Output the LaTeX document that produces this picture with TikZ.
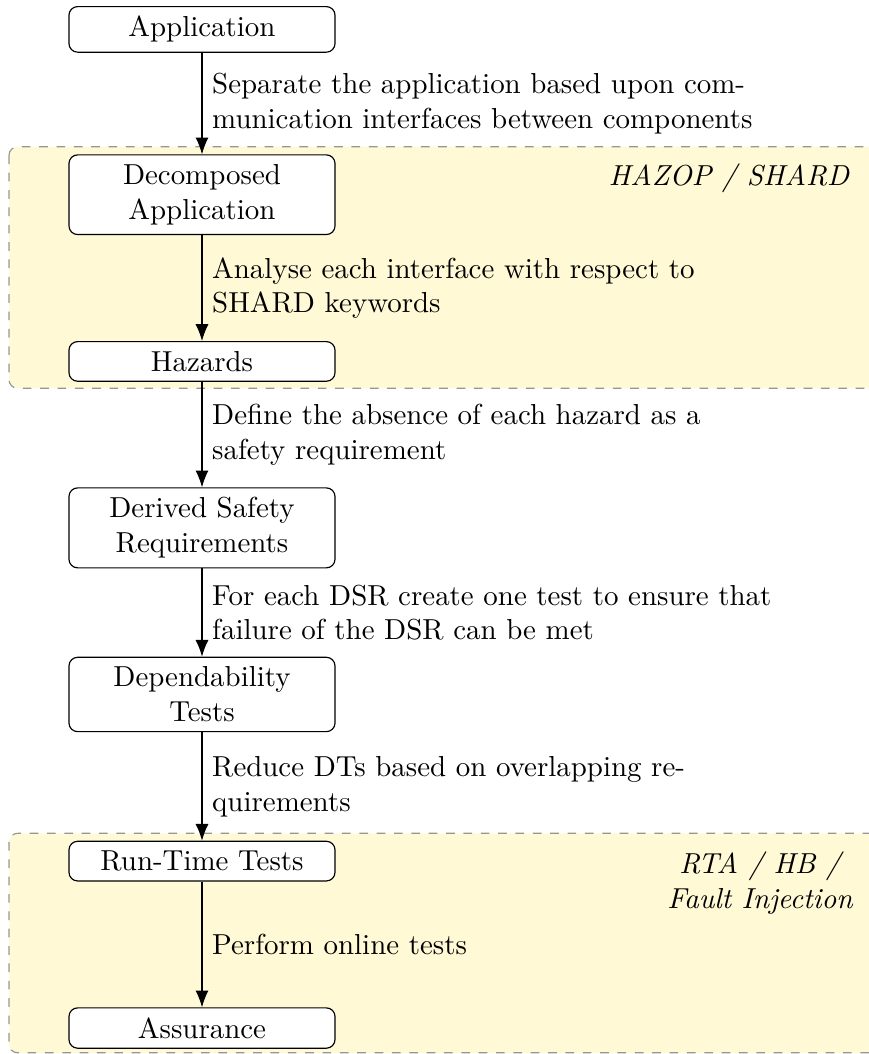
\documentclass[tikz,border=0pt]{standalone}
\usetikzlibrary{arrows.meta}
\definecolor{bandfill}{RGB}{255,249,214}
\definecolor{bandline}{RGB}{150,150,150}
\begin{document}
\begin{tikzpicture}[x=0.3458pt, y=-0.3458pt,
  stage/.style={draw, rounded corners=3pt, fill=white, minimum width=92pt,
    align=center, anchor=north, line width=0.4pt},
  flow/.style={-{Latex[length=5.8pt,width=4.5pt]}, line width=0.4pt},
  lbl/.style={midway, right, text width=200pt, align=left},
  band/.style={fill=bandfill, draw=bandline, dashed, rounded corners=3pt, line width=0.4pt},
  method/.style={font=\itshape, align=center, anchor=base}]
\useasboundingbox (0,0) rectangle (869,1054);
\clip (0,0) rectangle (869,1054);

% shaded phases
\draw[band] (9,146.7) rectangle (890,388.3);
\draw[band] (9,833.3) rectangle (890,1052.8);

% process stages
\node[stage] (app)  at (202,6)     {Application};
\node[stage] (dec)  at (202,154.3) {Decomposed\\Application};
\node[stage] (haz)  at (202,341)   {Hazards};
\node[stage] (dsr)  at (202,487.3) {Derived Safety\\Requirements};
\node[stage] (dep)  at (202,656.7) {Dependability\\Tests};
\node[stage] (rtt)  at (202,840.7) {Run-Time Tests};
\node[stage] (ass)  at (202,1007.3) {Assurance};

% methods used in each phase
\node[method] (hzp) at (729,185) {HAZOP / SHARD};
\node[method] (rta) at (760,908) {RTA / HB /\\Fault Injection};

% transitions
\draw[flow] (app) -- (dec) node[lbl] {Separate the application based upon com-\\munication interfaces between components};
\draw[flow] (dec) -- (haz) node[lbl] {Analyse each interface with respect to\\SHARD keywords};
\draw[flow] (haz) -- (dsr) node[lbl] {Define the absence of each hazard as a\\safety requirement};
\draw[flow] (dsr) -- (dep) node[lbl] {For each DSR create one test to ensure that\\failure of the DSR can be met};
\draw[flow] (dep) -- (rtt) node[lbl] {Reduce DTs based on overlapping re-\\quirements};
\draw[flow] (rtt) -- (ass) node[lbl] {Perform online tests};
\end{tikzpicture}
\end{document}
